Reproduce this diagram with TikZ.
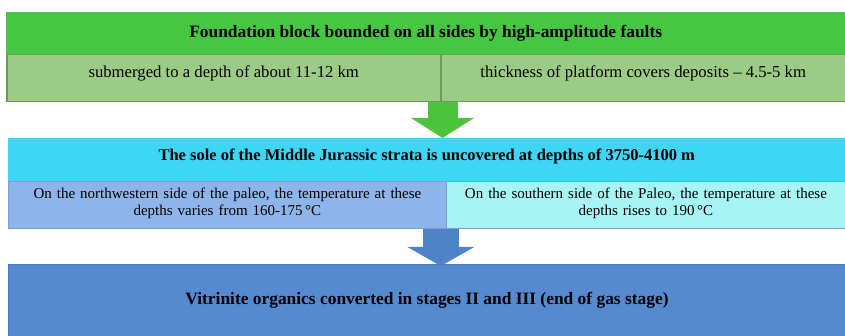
\documentclass[tikz,border=0pt]{standalone}
\usepackage{fontspec}
\setmainfont{Liberation Serif}
\usetikzlibrary{arrows.meta}
\definecolor{gtop}{HTML}{45C742}
\definecolor{gsub}{HTML}{9CCB85}
\definecolor{gline}{HTML}{6F9A5B}
\definecolor{ctop}{HTML}{3FD6F5}
\definecolor{csubl}{HTML}{8EB5EA}
\definecolor{csubr}{HTML}{A6F4F4}
\definecolor{cline}{HTML}{7C9FD6}
\definecolor{vbox}{HTML}{558AD0}
\definecolor{vline}{HTML}{4A7CC4}
\definecolor{garr}{HTML}{4DC23C}
\definecolor{barr}{HTML}{4F83C9}

\begin{document}
\begin{tikzpicture}[x=1pt,y=-1pt,
  box/.style={rectangle,anchor=north west,inner sep=0pt,align=center},
  titlebox/.style={box,font=\fontsize{17.4}{19}\selectfont\bfseries},
  subbox/.style={box,font=\fontsize{16.7}{17}\selectfont},
  tempbox/.style={box,font=\fontsize{15}{16.5}\selectfont,draw=cline,line width=0.8pt,minimum height=47pt},
  garrow/.style={draw=garr,line width=30pt,-{Triangle[width=62pt,length=20pt]}},
  barrow/.style={draw=barr,line width=36pt,-{Triangle[width=66pt,length=19pt]}}]
\useasboundingbox (0,0) rectangle (845,336);
% first level
\node[titlebox,fill=gtop,minimum width=839pt,minimum height=42pt] (ftop) at (6,12)
  {Foundation block bounded on all sides by high-amplitude faults};
\node[subbox,fill=gsub,draw=gline,line width=1.5pt,minimum width=434pt,minimum height=47pt,
  text height=10pt,text depth=11pt] (gsl) at (6,54) {submerged to a depth of about 11-12 km};
\node[subbox,fill=gsub,draw=gline,line width=1.5pt,minimum width=405pt,minimum height=47pt,
  text height=10pt,text depth=11pt] (gsr) at (440,54) {thickness of platform covers deposits -- 4.5-5 km};
% second level
\node[titlebox,fill=ctop,minimum width=837pt,minimum height=43pt,font=\fontsize{16.5}{19}\selectfont\bfseries,
  text height=12pt,text depth=10pt] (cyt) at (8,138)
  {The sole of the Middle Jurassic strata is uncovered at depths of 3750-4100 m};
\node[tempbox,fill=csubl,minimum width=438pt,text width=420pt,text depth=23pt] (csl) at (8,181)
  {On the northwestern side of the paleo, the temperature at these\\ depths varies from 160-175\,°C};
\node[tempbox,fill=csubr,minimum width=399pt,text width=385pt,text depth=23pt] (csr) at (446,181)
  {On the southern side of the Paleo, the temperature at these\\ depths rises to 190\,°C};
% result
\node[titlebox,fill=vbox,draw=vline,line width=1pt,minimum width=837pt,minimum height=72pt] (vit) at (8,264)
  {Vitrinite organics converted in stages II and III (end of gas stage)};
% arrows
\draw[garrow] ([xshift=1pt]gsl.south east) -- ([xshift=1pt]gsl.south east |- cyt.north);
\draw[barrow] ([xshift=-6pt]csl.south east) -- ([xshift=-6pt,yshift=-2pt]csl.south east |- vit.north);
\end{tikzpicture}
\end{document}
